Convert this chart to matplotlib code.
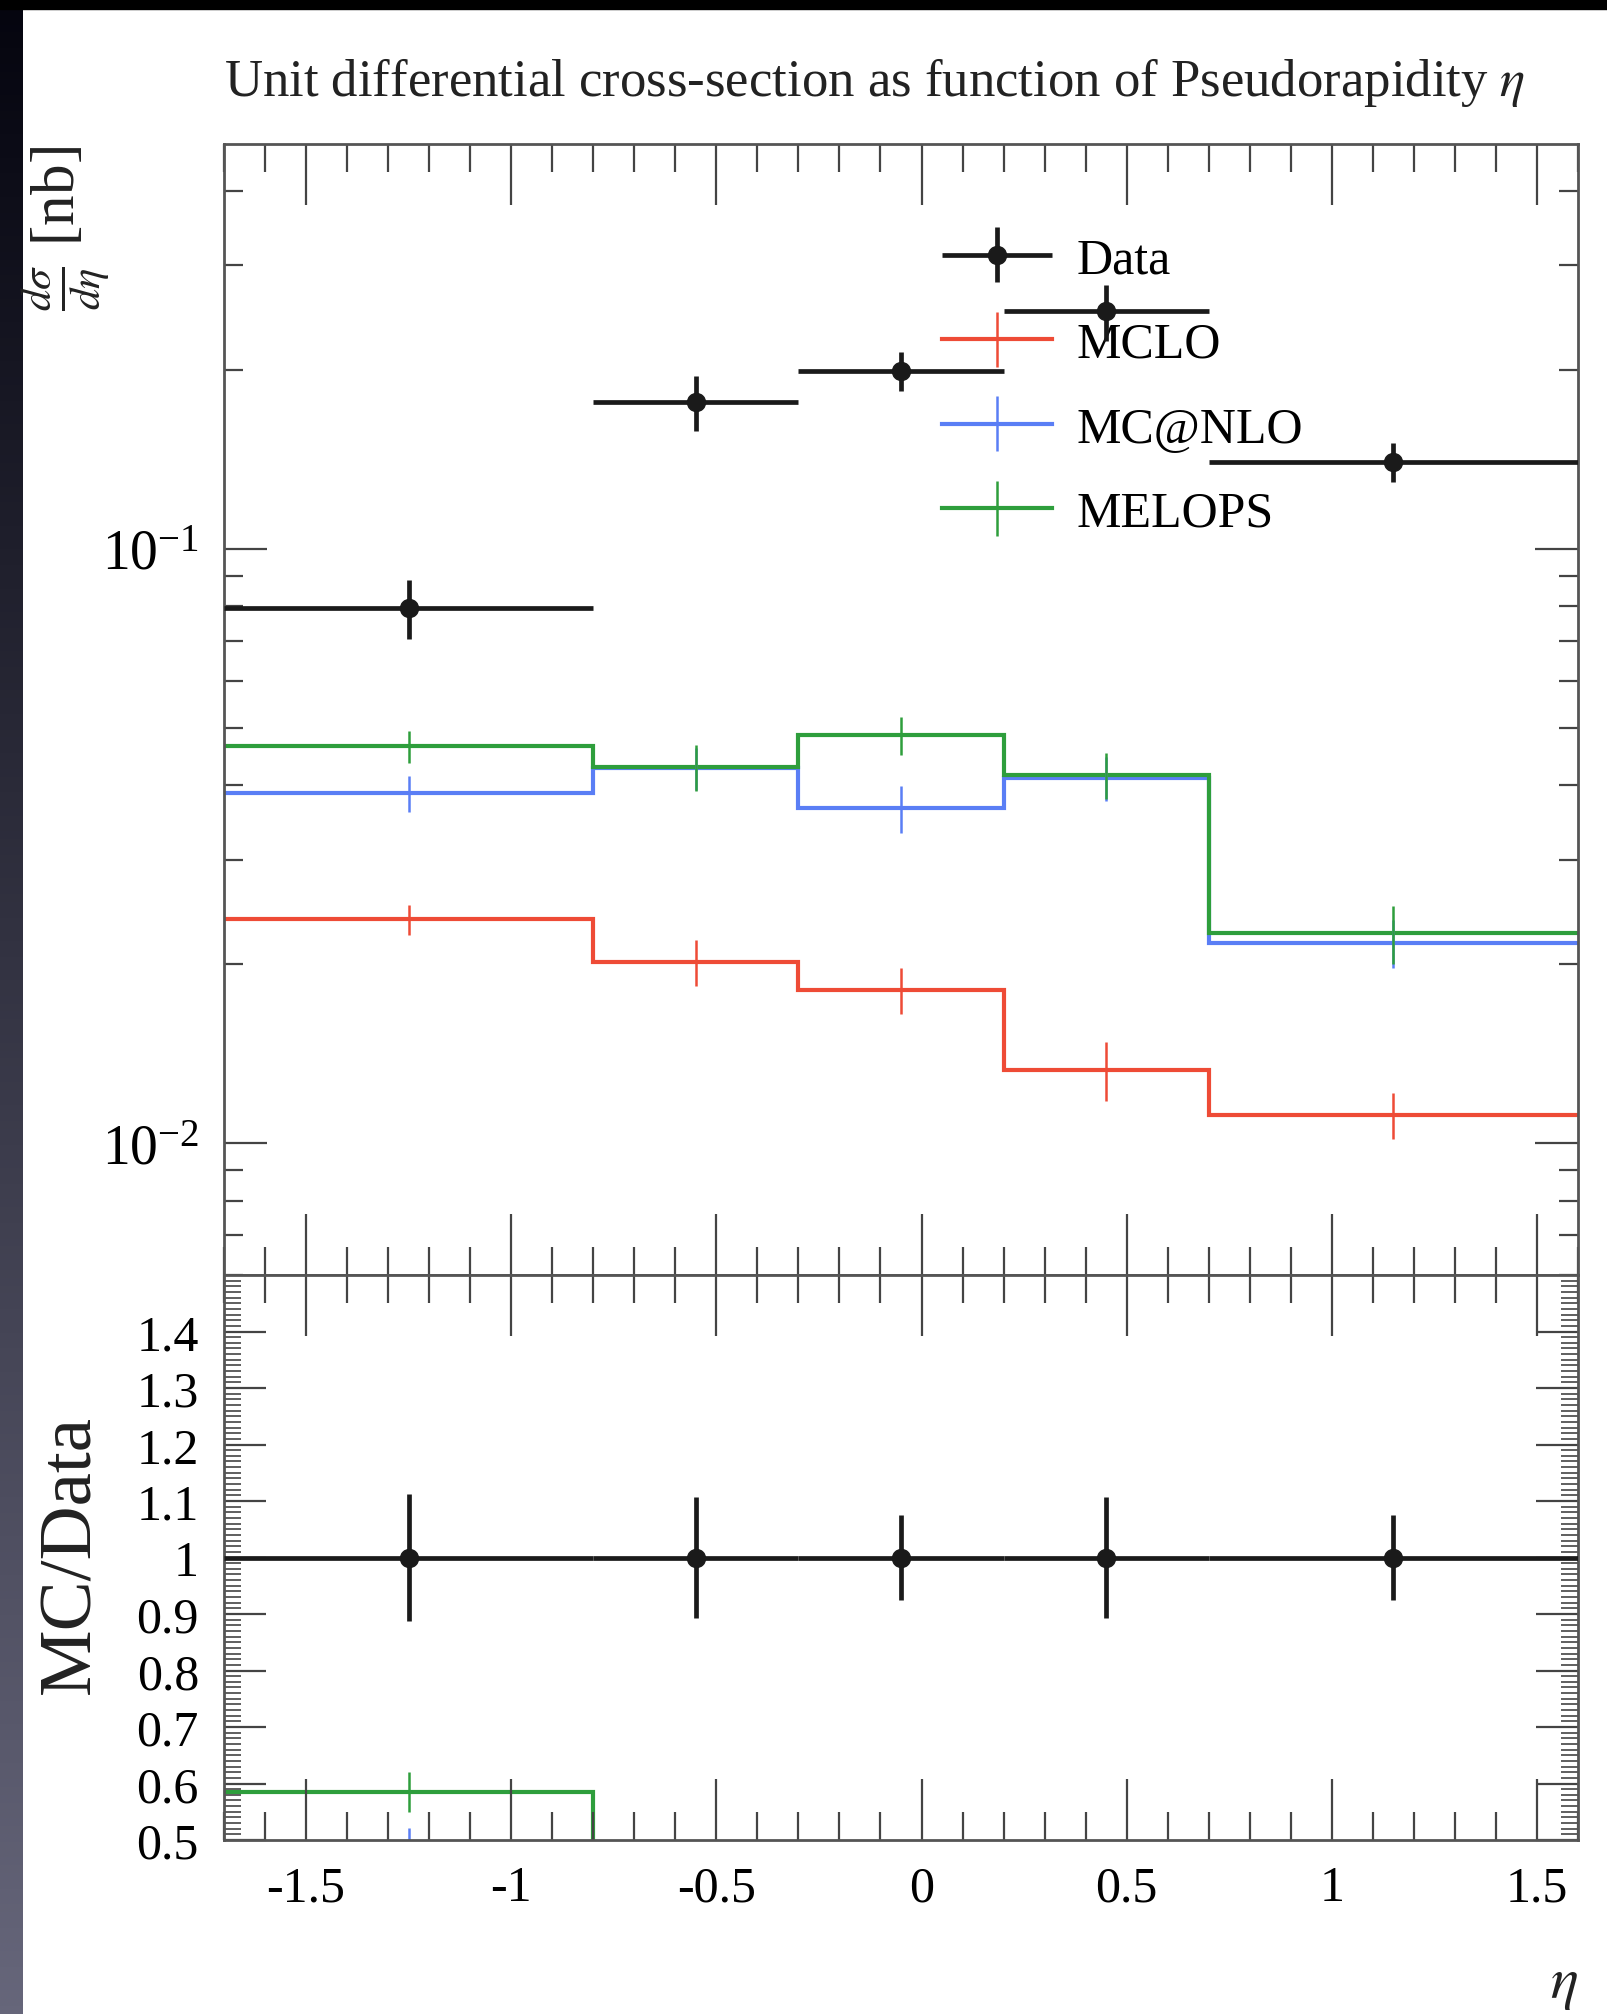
import numpy as np
import matplotlib
matplotlib.use("Agg")
import matplotlib.pyplot as plt
from matplotlib.container import ErrorbarContainer
from matplotlib.legend_handler import HandlerErrorbar, HandlerTuple
from matplotlib.lines import Line2D
from matplotlib.patches import Rectangle
from matplotlib.ticker import MultipleLocator, FixedLocator, FuncFormatter, LogLocator, NullFormatter

plt.rcParams['font.family'] = ['Liberation Serif', 'DejaVu Serif']
plt.rcParams['mathtext.fontset'] = 'stix'
plt.rcParams['axes.unicode_minus'] = False

# eta bins and values
bin_edges = [-1.7, -0.8, -0.3, 0.2, 0.7, 1.6]
data_vals = [0.0795, 0.1766, 0.199, 0.251, 0.140]
data_errs = [0.0090, 0.0190, 0.0150, 0.0270, 0.0105]
mclo_vals = [0.0238, 0.0202, 0.0181, 0.01328, 0.01116]
mclo_errs = [0.0014, 0.0018, 0.0016, 0.0015, 0.0010]
mcnlo_vals = [0.0388, 0.0428, 0.0366, 0.0411, 0.0217]
mcnlo_errs = [0.0027, 0.0035, 0.0033, 0.0035, 0.0020]
melops_vals = [0.0465, 0.0430, 0.0486, 0.0416, 0.02255]
melops_errs = [0.0028, 0.0038, 0.0036, 0.0037, 0.0025]

series_names = ['MCLO', 'MC@NLO', 'MELOPS']
series_vals = [mclo_vals, mcnlo_vals, melops_vals]
series_errs = [mclo_errs, mcnlo_errs, melops_errs]
series_colors = ['#EE4B36', '#5A7EF5', '#2E9E3C']

ratio_ticks = [0.5, 0.6, 0.7, 0.8, 0.9, 1.0, 1.1, 1.2, 1.3, 1.4]

W, H = 1608, 2015
fig = plt.figure(figsize=(W / 100, H / 100), dpi=100)

left = 224 / W
width = (1578 - 224) / W
ax1 = fig.add_axes([left, 1 - 1276 / H, width, (1276 - 145) / H])
ax2 = fig.add_axes([left, 1 - 1841 / H, width, (1841 - 1276) / H], sharex=ax1)

edges = np.array(bin_edges)
centers = (edges[:-1] + edges[1:]) / 2
halfw = (edges[1:] - edges[:-1]) / 2
dv = np.array(data_vals)
de = np.array(data_errs)

handles = []
labels = []

# data
data_eb = ax1.errorbar(centers, dv, xerr=halfw, yerr=de, fmt='o', color='#1a1a1a',
                       ms=13, elinewidth=3.4, capsize=0, zorder=6)
handles.append(data_eb)
labels.append('Data')

# MC predictions
for name, vals, errs, col in zip(series_names, series_vals, series_errs, series_colors):
    v = np.array(vals)
    e = np.array(errs)
    ax1.stairs(v, edges, baseline=None, color=col, lw=3.0)
    eb = ax1.errorbar(centers, v, yerr=e, fmt='none', ecolor=col, elinewidth=1.8)
    handles.append((Line2D([], [], color=col, lw=3.0), eb))
    labels.append(name)

    ax2.stairs(v / dv, edges, baseline=None, color=col, lw=3.0)
    ax2.errorbar(centers, v / dv, yerr=e / dv, fmt='none', ecolor=col, elinewidth=1.8)

# data in ratio panel
ax2.errorbar(centers, np.ones_like(dv), xerr=halfw, yerr=de / dv, fmt='o', color='#1a1a1a',
             ms=13, elinewidth=3.4, capsize=0, zorder=6)

ax1.set_yscale('log')
ax1.set_ylim(0.006, 0.48)
ax1.set_xlim(-1.7, 1.6)
ax2.set_ylim(0.5, 1.5)

ax1.yaxis.set_major_locator(LogLocator(base=10, numticks=10))
ax1.yaxis.set_minor_locator(LogLocator(base=10, subs=np.arange(2, 10), numticks=20))
ax1.yaxis.set_minor_formatter(NullFormatter())

ax2.xaxis.set_major_locator(MultipleLocator(0.5))
ax2.xaxis.set_minor_locator(MultipleLocator(0.1))
ax2.yaxis.set_major_locator(FixedLocator(ratio_ticks))
ax2.yaxis.set_minor_locator(MultipleLocator(0.01))
ax2.yaxis.set_major_formatter(FuncFormatter(lambda v, p: '%g' % round(v, 2)))
ax2.xaxis.set_major_formatter(FuncFormatter(lambda v, p: '%g' % round(v, 2)))

plt.setp(ax1.get_xticklabels(), visible=False)

for ax in (ax1, ax2):
    ax.tick_params(which='both', direction='in', top=True, right=True,
                   color='#444444', width=1.6, labelsize=36, pad=18)
    ax.tick_params(axis='x', which='major', length=44)
    ax.tick_params(axis='x', which='minor', length=20)
    for sp in ax.spines.values():
        sp.set_color('#555555')
        sp.set_linewidth(2)
ax1.tick_params(axis='y', which='major', length=31, labelsize=40)
ax1.tick_params(axis='y', which='minor', length=14)
ax2.tick_params(axis='y', which='major', length=30)
ax2.tick_params(axis='y', which='minor', length=12, width=1.2)

leg = ax1.legend(handles, labels, loc='upper left', bbox_to_anchor=(0.53, 0.918),
                 frameon=False, fontsize=36, handlelength=2.2, handletextpad=0.5,
                 labelspacing=0.76, borderpad=0, borderaxespad=0,
                 handler_map={ErrorbarContainer: HandlerErrorbar(xerr_size=1.1, yerr_size=0.55),
                              tuple: HandlerTuple(ndivide=1)})

# titles and axis labels
fig.text(224 / W, 1 - 96 / H, r'Unit differential cross-section as function of Pseudorapidity $\eta$',
         fontsize=38, ha='left', va='baseline', color='#222222')
fig.text(66 / W, 1 - 146 / H, r'$\frac{d\sigma}{d\eta}$ [nb]', fontsize=44, rotation=90,
         ha='center', va='top', color='#222222')
fig.text(72 / W, 1 - 1555 / H, 'MC/Data', fontsize=54, rotation=90,
         ha='center', va='center', color='#222222')
fig.text(1578 / W, 1 - 1986 / H, r'$\eta$', fontsize=42, ha='right', va='center', color='#222222')

# dark frame at top and left edge
fig.patches.append(Rectangle((0, 1 - 10 / H), 1, 10 / H, transform=fig.transFigure,
                             color='black', zorder=10))
strip = fig.add_axes([0, 0, 23 / W, 1 - 10 / H])
shade = np.linspace(0.0, 1.0, 256)[:, None]
grad = np.stack([0.02 + 0.38 * shade, 0.02 + 0.38 * shade, 0.06 + 0.42 * shade], axis=-1)
strip.imshow(grad, aspect='auto', extent=[0, 1, 0, 1], origin='upper')
strip.axis('off')

fig.savefig('out.png', dpi=100, facecolor='white')
